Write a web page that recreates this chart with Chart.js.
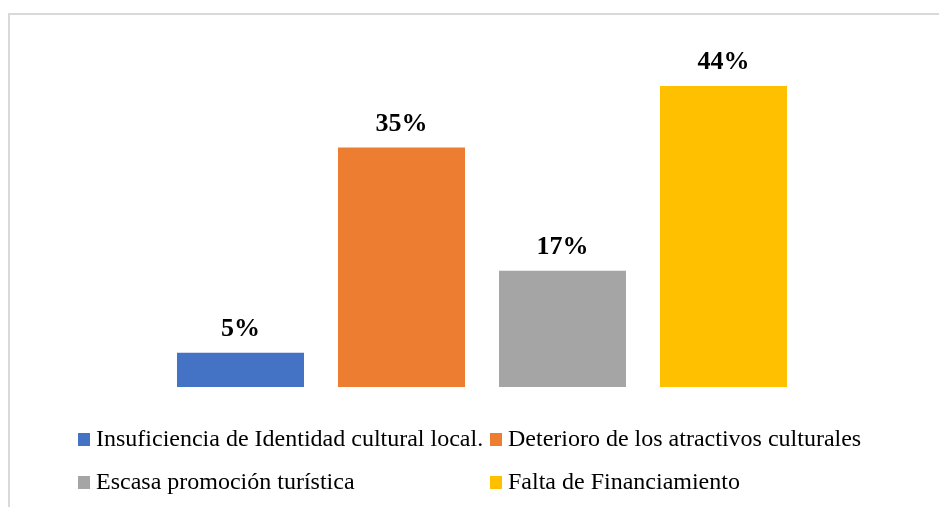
<!DOCTYPE html>
<html>
<head>
<meta charset="utf-8">
<script src="https://cdn.jsdelivr.net/npm/chart.js@4"></script>
<style>
  html,body{margin:0;padding:0;background:#fff;width:939px;height:507px;overflow:hidden;}
  #frame{position:absolute;left:8px;top:13px;width:960px;height:520px;border-left:2px solid #d9d9d9;border-top:2px solid #d9d9d9;box-sizing:border-box;}
  #wrap{position:absolute;left:0;top:0;width:939px;height:507px;}
  .lg{position:absolute;font-family:"Liberation Serif","Times New Roman",serif;font-size:24px;color:#000;white-space:nowrap;line-height:24px;}
  .lg .sw{position:absolute;width:12px;height:13px;top:7px;left:0;}
  .lg .tx{position:absolute;left:18px;top:0;}
</style>
</head>
<body>
<div id="frame"></div>
<div id="wrap"><canvas id="c" width="939" height="507"></canvas></div>
<div id="legend"></div>
<script>
const categories = [
  "Insuficiencia de Identidad cultural local.",
  "Deterioro de los atractivos culturales",
  "Escasa promoción turística",
  "Falta de Financiamiento"
];
const values = [5, 35, 17, 44];
const colors = ["#4472C4", "#ED7D31", "#A5A5A5", "#FFC000"];

const labelPlugin = {
  id: 'valueLabels',
  afterDatasetsDraw(chart) {
    const ctx = chart.ctx;
    const meta = chart.getDatasetMeta(0);
    ctx.save();
    ctx.font = 'bold 26px "Liberation Serif", "Times New Roman", serif';
    ctx.fillStyle = '#000';
    ctx.textAlign = 'center';
    ctx.textBaseline = 'alphabetic';
    meta.data.forEach((bar, i) => {
      ctx.fillText(values[i] + '%', bar.x, bar.y - 17);
    });
    ctx.restore();
  }
};

new Chart(document.getElementById('c'), {
  type: 'bar',
  data: {
    labels: categories,
    datasets: [{
      data: values,
      backgroundColor: colors,
      borderWidth: 0,
      categoryPercentage: 1.0,
      barPercentage: 0.789
    }]
  },
  options: {
    responsive: false,
    animation: false,
    layout: { padding: { left: 160, right: 135, top: 45, bottom: 120 } },
    plugins: { legend: { display: false }, tooltip: { enabled: false } },
    scales: {
      x: { display: false },
      y: { display: false, min: 0, max: 50 }
    }
  },
  plugins: [labelPlugin]
});

// HTML legend in a 2x2 grid
const legendPos = [[78, 426], [490, 426], [78, 469], [490, 469]];
const lg = document.getElementById('legend');
categories.forEach((name, i) => {
  const d = document.createElement('div');
  d.className = 'lg';
  d.style.left = legendPos[i][0] + 'px';
  d.style.top = legendPos[i][1] + 'px';
  const sw = document.createElement('span');
  sw.className = 'sw';
  sw.style.background = colors[i];
  const tx = document.createElement('span');
  tx.className = 'tx';
  tx.textContent = name;
  d.appendChild(sw);
  d.appendChild(tx);
  lg.appendChild(d);
});
</script>
</body>
</html>
